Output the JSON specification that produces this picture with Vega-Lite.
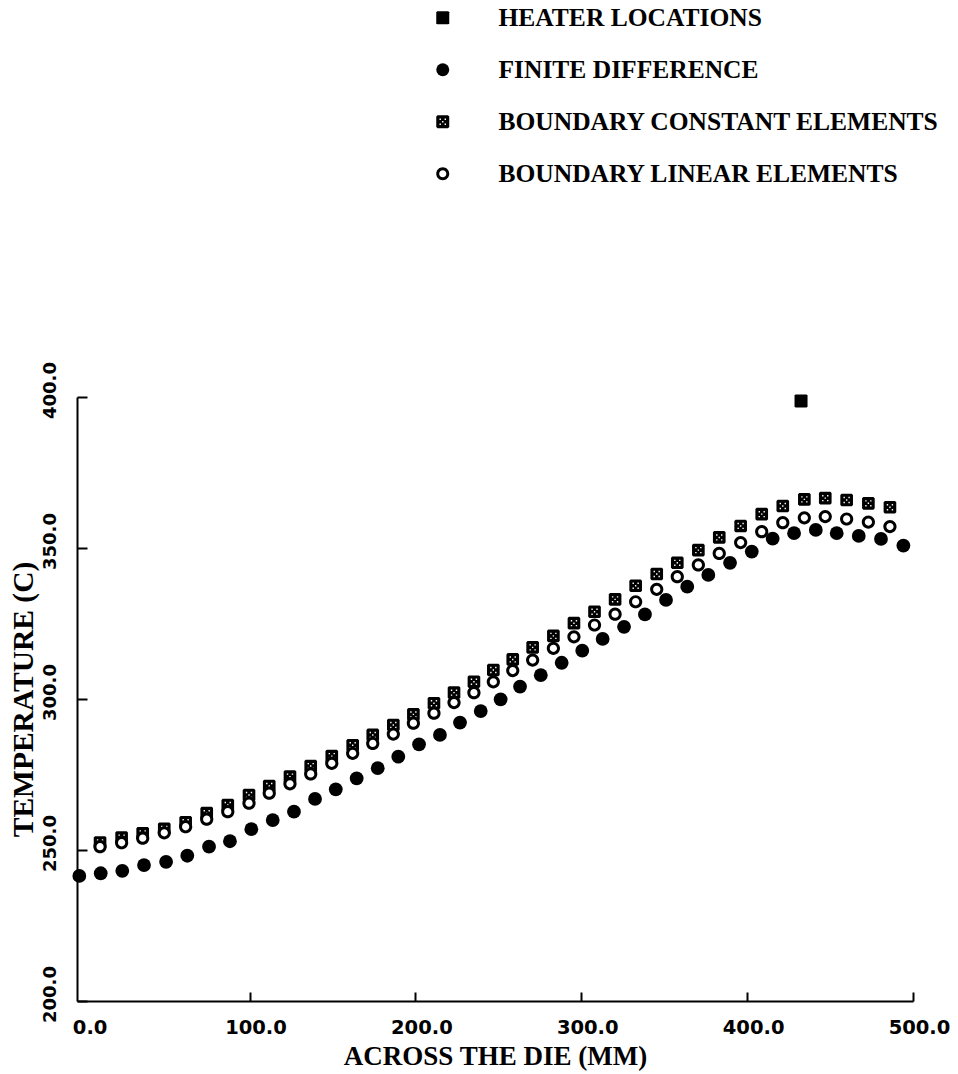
{
  "$schema": "https://vega.github.io/schema/vega-lite/v6.json",
  "width": 836,
  "height": 604,
  "autosize": {"type": "none"},
  "padding": {"left": 77, "top": 397, "right": 45, "bottom": 73},
  "background": "white",
  "config": {"view": {"stroke": null}},
  "data": {"values": [
    {"s":"BOUNDARY CONSTANT ELEMENTS","x":9.9,"y":252.5},{"s":"BOUNDARY CONSTANT ELEMENTS","x":22.9,"y":254.1},{"s":"BOUNDARY CONSTANT ELEMENTS","x":35.6,"y":255.5},{"s":"BOUNDARY CONSTANT ELEMENTS","x":48.6,"y":257.0},{"s":"BOUNDARY CONSTANT ELEMENTS","x":61.5,"y":259.2},{"s":"BOUNDARY CONSTANT ELEMENTS","x":74.2,"y":262.2},{"s":"BOUNDARY CONSTANT ELEMENTS","x":86.9,"y":264.9},{"s":"BOUNDARY CONSTANT ELEMENTS","x":99.7,"y":268.2},{"s":"BOUNDARY CONSTANT ELEMENTS","x":111.9,"y":271.2},{"s":"BOUNDARY CONSTANT ELEMENTS","x":124.4,"y":274.3},{"s":"BOUNDARY CONSTANT ELEMENTS","x":136.9,"y":277.8},{"s":"BOUNDARY CONSTANT ELEMENTS","x":149.6,"y":281.1},{"s":"BOUNDARY CONSTANT ELEMENTS","x":162.2,"y":284.7},{"s":"BOUNDARY CONSTANT ELEMENTS","x":174.3,"y":288.1},{"s":"BOUNDARY CONSTANT ELEMENTS","x":186.7,"y":291.4},{"s":"BOUNDARY CONSTANT ELEMENTS","x":198.8,"y":294.9},{"s":"BOUNDARY CONSTANT ELEMENTS","x":211.2,"y":298.6},{"s":"BOUNDARY CONSTANT ELEMENTS","x":223.3,"y":302.1},{"s":"BOUNDARY CONSTANT ELEMENTS","x":235.3,"y":305.7},{"s":"BOUNDARY CONSTANT ELEMENTS","x":247.0,"y":309.6},{"s":"BOUNDARY CONSTANT ELEMENTS","x":258.7,"y":313.1},{"s":"BOUNDARY CONSTANT ELEMENTS","x":270.7,"y":317.1},{"s":"BOUNDARY CONSTANT ELEMENTS","x":283.2,"y":320.9},{"s":"BOUNDARY CONSTANT ELEMENTS","x":295.6,"y":325.1},{"s":"BOUNDARY CONSTANT ELEMENTS","x":308.0,"y":328.9},{"s":"BOUNDARY CONSTANT ELEMENTS","x":320.4,"y":333.0},{"s":"BOUNDARY CONSTANT ELEMENTS","x":332.8,"y":337.5},{"s":"BOUNDARY CONSTANT ELEMENTS","x":345.5,"y":341.4},{"s":"BOUNDARY CONSTANT ELEMENTS","x":357.9,"y":345.1},{"s":"BOUNDARY CONSTANT ELEMENTS","x":370.6,"y":349.3},{"s":"BOUNDARY CONSTANT ELEMENTS","x":383.2,"y":353.5},{"s":"BOUNDARY CONSTANT ELEMENTS","x":396.1,"y":357.3},{"s":"BOUNDARY CONSTANT ELEMENTS","x":408.8,"y":361.2},{"s":"BOUNDARY CONSTANT ELEMENTS","x":421.5,"y":363.9},{"s":"BOUNDARY CONSTANT ELEMENTS","x":434.5,"y":366.1},{"s":"BOUNDARY CONSTANT ELEMENTS","x":447.1,"y":366.5},{"s":"BOUNDARY CONSTANT ELEMENTS","x":460.0,"y":365.9},{"s":"BOUNDARY CONSTANT ELEMENTS","x":473.1,"y":364.8},{"s":"BOUNDARY CONSTANT ELEMENTS","x":486.1,"y":363.5},
    {"s":"BOUNDARY LINEAR ELEMENTS","x":9.9,"y":251.1},{"s":"BOUNDARY LINEAR ELEMENTS","x":22.9,"y":252.4},{"s":"BOUNDARY LINEAR ELEMENTS","x":35.6,"y":253.9},{"s":"BOUNDARY LINEAR ELEMENTS","x":48.6,"y":255.7},{"s":"BOUNDARY LINEAR ELEMENTS","x":61.5,"y":257.7},{"s":"BOUNDARY LINEAR ELEMENTS","x":74.2,"y":260.2},{"s":"BOUNDARY LINEAR ELEMENTS","x":86.9,"y":262.7},{"s":"BOUNDARY LINEAR ELEMENTS","x":99.7,"y":265.5},{"s":"BOUNDARY LINEAR ELEMENTS","x":111.9,"y":268.8},{"s":"BOUNDARY LINEAR ELEMENTS","x":124.4,"y":271.9},{"s":"BOUNDARY LINEAR ELEMENTS","x":136.9,"y":275.2},{"s":"BOUNDARY LINEAR ELEMENTS","x":149.6,"y":278.7},{"s":"BOUNDARY LINEAR ELEMENTS","x":162.2,"y":282.0},{"s":"BOUNDARY LINEAR ELEMENTS","x":174.3,"y":285.3},{"s":"BOUNDARY LINEAR ELEMENTS","x":186.7,"y":288.4},{"s":"BOUNDARY LINEAR ELEMENTS","x":198.8,"y":292.0},{"s":"BOUNDARY LINEAR ELEMENTS","x":211.2,"y":295.3},{"s":"BOUNDARY LINEAR ELEMENTS","x":223.3,"y":298.8},{"s":"BOUNDARY LINEAR ELEMENTS","x":235.3,"y":302.1},{"s":"BOUNDARY LINEAR ELEMENTS","x":247.0,"y":305.7},{"s":"BOUNDARY LINEAR ELEMENTS","x":258.7,"y":309.4},{"s":"BOUNDARY LINEAR ELEMENTS","x":270.7,"y":312.9},{"s":"BOUNDARY LINEAR ELEMENTS","x":283.2,"y":316.8},{"s":"BOUNDARY LINEAR ELEMENTS","x":295.6,"y":320.6},{"s":"BOUNDARY LINEAR ELEMENTS","x":308.0,"y":324.5},{"s":"BOUNDARY LINEAR ELEMENTS","x":320.4,"y":328.1},{"s":"BOUNDARY LINEAR ELEMENTS","x":332.8,"y":332.2},{"s":"BOUNDARY LINEAR ELEMENTS","x":345.5,"y":336.3},{"s":"BOUNDARY LINEAR ELEMENTS","x":357.9,"y":340.5},{"s":"BOUNDARY LINEAR ELEMENTS","x":370.6,"y":344.4},{"s":"BOUNDARY LINEAR ELEMENTS","x":383.2,"y":348.2},{"s":"BOUNDARY LINEAR ELEMENTS","x":396.1,"y":351.8},{"s":"BOUNDARY LINEAR ELEMENTS","x":408.8,"y":355.4},{"s":"BOUNDARY LINEAR ELEMENTS","x":421.5,"y":358.4},{"s":"BOUNDARY LINEAR ELEMENTS","x":434.5,"y":360.0},{"s":"BOUNDARY LINEAR ELEMENTS","x":447.1,"y":360.4},{"s":"BOUNDARY LINEAR ELEMENTS","x":460.0,"y":359.6},{"s":"BOUNDARY LINEAR ELEMENTS","x":473.1,"y":358.6},{"s":"BOUNDARY LINEAR ELEMENTS","x":486.1,"y":357.1},
    {"s":"FINITE DIFFERENCE","x":-2.6,"y":241.4},{"s":"FINITE DIFFERENCE","x":10.3,"y":242.3},{"s":"FINITE DIFFERENCE","x":23.3,"y":243.1},{"s":"FINITE DIFFERENCE","x":36.4,"y":245.0},{"s":"FINITE DIFFERENCE","x":49.7,"y":246.1},{"s":"FINITE DIFFERENCE","x":62.5,"y":248.1},{"s":"FINITE DIFFERENCE","x":75.6,"y":251.1},{"s":"FINITE DIFFERENCE","x":88.2,"y":252.9},{"s":"FINITE DIFFERENCE","x":101.1,"y":256.9},{"s":"FINITE DIFFERENCE","x":114.0,"y":259.9},{"s":"FINITE DIFFERENCE","x":126.8,"y":262.7},{"s":"FINITE DIFFERENCE","x":139.5,"y":266.9},{"s":"FINITE DIFFERENCE","x":152.0,"y":270.1},{"s":"FINITE DIFFERENCE","x":164.6,"y":273.7},{"s":"FINITE DIFFERENCE","x":177.3,"y":277.1},{"s":"FINITE DIFFERENCE","x":189.7,"y":280.9},{"s":"FINITE DIFFERENCE","x":202.2,"y":285.0},{"s":"FINITE DIFFERENCE","x":214.8,"y":288.1},{"s":"FINITE DIFFERENCE","x":226.9,"y":292.2},{"s":"FINITE DIFFERENCE","x":239.4,"y":296.0},{"s":"FINITE DIFFERENCE","x":251.4,"y":299.9},{"s":"FINITE DIFFERENCE","x":263.1,"y":304.1},{"s":"FINITE DIFFERENCE","x":275.6,"y":307.9},{"s":"FINITE DIFFERENCE","x":288.2,"y":312.0},{"s":"FINITE DIFFERENCE","x":300.6,"y":316.0},{"s":"FINITE DIFFERENCE","x":312.9,"y":319.9},{"s":"FINITE DIFFERENCE","x":325.8,"y":323.9},{"s":"FINITE DIFFERENCE","x":338.4,"y":328.0},{"s":"FINITE DIFFERENCE","x":351.1,"y":332.8},{"s":"FINITE DIFFERENCE","x":363.9,"y":337.2},{"s":"FINITE DIFFERENCE","x":376.6,"y":341.1},{"s":"FINITE DIFFERENCE","x":389.7,"y":345.1},{"s":"FINITE DIFFERENCE","x":402.8,"y":348.8},{"s":"FINITE DIFFERENCE","x":415.4,"y":353.1},{"s":"FINITE DIFFERENCE","x":428.3,"y":354.9},{"s":"FINITE DIFFERENCE","x":441.4,"y":356.0},{"s":"FINITE DIFFERENCE","x":454.0,"y":354.9},{"s":"FINITE DIFFERENCE","x":467.3,"y":354.0},{"s":"FINITE DIFFERENCE","x":480.7,"y":353.0},{"s":"FINITE DIFFERENCE","x":494.2,"y":350.8},
    {"s":"HEATER LOCATIONS","x":432.5,"y":398.7}
  ]},
  "encoding": {
    "x": {"field": "x", "type": "quantitative",
      "scale": {"domain": [-4, 500], "nice": false, "zero": false},
      "axis": {"title": "ACROSS THE DIE (MM)", "values": [0, 100, 200, 300, 400, 500], "format": ".1f", "grid": false,
        "domainColor": "black", "domainWidth": 2, "tickColor": "black", "tickWidth": 2, "tickSize": -9,
        "tickOpacity": {"condition": {"test": "datum.value === 0", "value": 0}, "value": 1},
        "labelFont": "DejaVu Sans", "labelFontWeight": "bold", "labelFontSize": 19.5, "labelColor": "black",
        "labelPadding": 26, "labelOffset": 6, "labelFlush": false, "labelOverlap": false,
        "titleFont": "Liberation Serif", "titleFontWeight": "bold", "titleFontSize": 27, "titleColor": "black", "titlePadding": 7}},
    "y": {"field": "y", "type": "quantitative",
      "scale": {"domain": [200, 400], "nice": false, "zero": false},
      "axis": {"title": "TEMPERATURE (C)", "values": [200, 250, 300, 350, 400], "format": ".1f", "grid": false,
        "domainColor": "black", "domainWidth": 2, "tickColor": "black", "tickWidth": 2, "tickSize": -10,
        "labelFont": "DejaVu Sans", "labelFontWeight": "bold", "labelFontSize": 18, "labelColor": "black",
        "labelAngle": 270, "labelAlign": "center", "labelBaseline": "bottom",
        "labelPadding": 28, "labelOffset": -7, "labelFlush": false, "labelOverlap": false,
        "titleFont": "Liberation Serif", "titleFontWeight": "bold", "titleFontSize": 29.5, "titleColor": "black", "titlePadding": 3}}
  },
  "layer": [
    {
      "transform": [{"filter": "datum.s === 'BOUNDARY CONSTANT ELEMENTS'"}],
      "mark": {"type": "point", "filled": true, "fill": "black", "strokeWidth": 0, "size": 160, "opacity": 1},
      "encoding": {"shape": {"field": "s", "type": "nominal",
        "scale": {"domain": ["HEATER LOCATIONS", "FINITE DIFFERENCE", "BOUNDARY CONSTANT ELEMENTS", "BOUNDARY LINEAR ELEMENTS"],
          "range": ["M-0.85,-1H0.85L1,-0.85V0.85L0.85,1H-0.85L-1,0.85V-0.85Z", "circle",
            "M-0.8,-1H0.8L1,-0.8V0.8L0.8,1H-0.8L-1,0.8V-0.8Z M-0.5,-0.5V-0.28H-0.28V-0.5Z M0.28,-0.5V-0.28H0.5V-0.5Z M-0.5,0.28V0.5H-0.28V0.28Z M0.28,0.28V0.5H0.5V0.28Z M-0.11,-0.11V0.11H0.11V-0.11Z",
            "M1,0A1,1,0,1,1,-1,0A1,1,0,1,1,1,0Z M0.55,0A0.55,0.55,0,1,0,-0.55,0A0.55,0.55,0,1,0,0.55,0Z"]},
        "legend": {"title": null, "orient": "none", "legendX": 353, "legendY": -392,
          "symbolSize": 169, "symbolFillColor": "black", "symbolStrokeWidth": 0, "symbolOpacity": 1,
          "labelFont": "Liberation Serif", "labelFontWeight": "bold", "labelFontSize": 25.5, "labelColor": "black",
          "labelOffset": 43, "labelLimit": 700, "rowPadding": 25, "padding": 0}}}
    },
    {
      "transform": [{"filter": "datum.s === 'BOUNDARY LINEAR ELEMENTS'"}],
      "mark": {"type": "point", "shape": "circle", "filled": true, "fill": "white", "strokeWidth": 0, "size": 140, "opacity": 1}
    },
    {
      "transform": [{"filter": "datum.s === 'BOUNDARY LINEAR ELEMENTS'"}],
      "mark": {"type": "point", "filled": true, "fill": "black", "strokeWidth": 0, "size": 175, "opacity": 1},
      "encoding": {"shape": {"field": "s", "type": "nominal"}}
    },
    {
      "transform": [{"filter": "datum.s === 'FINITE DIFFERENCE'"}],
      "mark": {"type": "point", "filled": true, "fill": "black", "strokeWidth": 0, "size": 190, "opacity": 1},
      "encoding": {"shape": {"field": "s", "type": "nominal"}}
    },
    {
      "transform": [{"filter": "datum.s === 'HEATER LOCATIONS'"}],
      "mark": {"type": "point", "filled": true, "fill": "black", "strokeWidth": 0, "size": 169, "opacity": 1},
      "encoding": {"shape": {"field": "s", "type": "nominal"}}
    }
  ]
}
